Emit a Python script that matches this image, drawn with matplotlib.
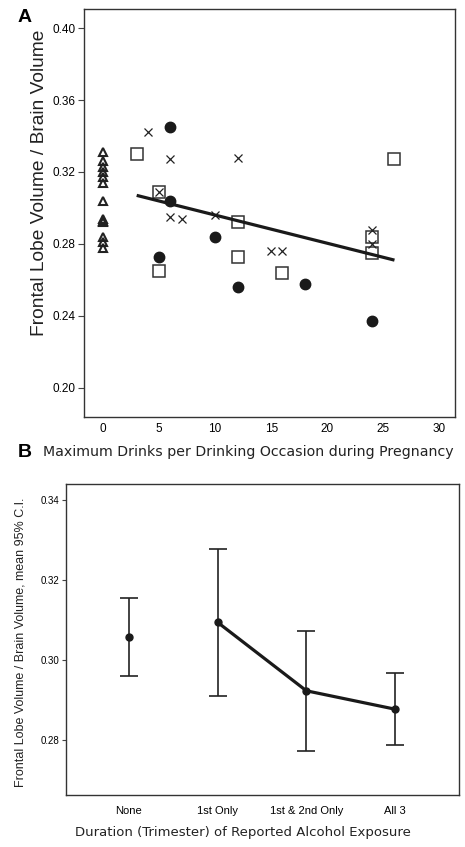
import matplotlib
matplotlib.use("Agg")
import matplotlib.pyplot as plt

plt.rcParams['font.family'] = ['Liberation Sans', 'DejaVu Sans']

# ---- Panel A data ----
tri_x = [0, 0, 0, 0, 0, 0, 0, 0, 0, 0, 0, 0, 0]
tri_y = [0.331, 0.326, 0.323, 0.320, 0.317, 0.314, 0.304, 0.294, 0.293, 0.292, 0.284, 0.281, 0.278]
circ_x = [6, 6, 5, 10, 12, 18, 24]
circ_y = [0.345, 0.304, 0.273, 0.284, 0.256, 0.258, 0.237]
sq_x = [3, 5, 5, 12, 12, 16, 24, 24, 26]
sq_y = [0.330, 0.309, 0.265, 0.292, 0.273, 0.264, 0.284, 0.275, 0.327]
cross_x = [4, 6, 12, 5, 6, 7, 10, 15, 16, 24, 24]
cross_y = [0.342, 0.327, 0.328, 0.309, 0.295, 0.294, 0.296, 0.276, 0.276, 0.288, 0.280]
fit_x = [3, 26]
fit_y = [0.307, 0.271]
a_xticks = [0, 5, 10, 15, 20, 25, 30]
a_yticks = [0.20, 0.24, 0.28, 0.32, 0.36, 0.40]

# ---- Panel B data ----
b_cats = ["None", "1st Only", "1st & 2nd Only", "All 3"]
b_mean = [0.3058, 0.3094, 0.2923, 0.2877]
b_low = [0.2961, 0.2911, 0.2773, 0.2787]
b_high = [0.3156, 0.3277, 0.3073, 0.2967]
b_yticks = [0.28, 0.30, 0.32, 0.34]

W, H = 465, 847
fig = plt.figure(figsize=(W/100, H/100), dpi=100)

# Panel A
axA = fig.add_axes([84/W, 1-417/H, (455-84)/W, (417-9)/H])
axA.plot(tri_x, tri_y, linestyle='none', marker='^', markersize=6.2,
         markerfacecolor='none', markeredgecolor='#222222', markeredgewidth=1.5)
axA.plot(circ_x, circ_y, linestyle='none', marker='o', markersize=7.5,
         markerfacecolor='#1a1a1a', markeredgecolor='#1a1a1a')
axA.plot(sq_x, sq_y, linestyle='none', marker='s', markersize=8,
         markerfacecolor='none', markeredgecolor='#333333', markeredgewidth=1.1)
axA.plot(cross_x, cross_y, linestyle='none', marker='x', markersize=5.5,
         markeredgecolor='#222222', markeredgewidth=0.9)
axA.plot(fit_x, fit_y, color='#1a1a1a', linewidth=2.3, solid_capstyle='butt')
axA.set_xlim(-1.7, 31.4)
axA.set_ylim(0.1838, 0.4106)
axA.set_xticks(a_xticks)
axA.set_xticklabels([str(t) for t in a_xticks], fontsize=8.5)
axA.set_yticks(a_yticks)
axA.set_yticklabels(["%.2f" % t for t in a_yticks], fontsize=8.5)
axA.tick_params(axis='x', length=0, pad=4)
axA.tick_params(axis='y', length=4, width=0.8, direction='out', color='#444444', pad=2)
for s in axA.spines.values():
    s.set_linewidth(1.0)
    s.set_color('#333333')
fig.text(39/W, 1-183/H, "Frontal Lobe Volume / Brain Volume", fontsize=13.8,
         rotation=90, ha='center', va='center', color='#222222')
fig.text(43/W, 1-452/H, "Maximum Drinks per Drinking Occasion during Pregnancy",
         fontsize=10.2, family=['DejaVu Sans'], va='center', ha='left', color='#222222')
fig.text(25/W, 1-18/H, "A", fontsize=14, fontweight='bold', ha='center', va='center')
fig.text(25/W, 1-452/H, "B", fontsize=14, fontweight='bold', ha='center', va='center')

# Panel B
axB = fig.add_axes([66/W, 1-795/H, (459-66)/W, (795-484)/H])
xs = list(range(len(b_cats)))
err_lo = [m - l for m, l in zip(b_mean, b_low)]
err_hi = [h - m for m, h in zip(b_mean, b_high)]
axB.errorbar(xs, b_mean, yerr=[err_lo, err_hi], fmt='none', ecolor='#222222',
             elinewidth=1.2, capsize=6.2, capthick=1.2)
axB.plot(xs[1:], b_mean[1:], color='#1a1a1a', linewidth=2.3)
axB.plot(xs, b_mean, linestyle='none', marker='o', markersize=5, color='#1a1a1a')
axB.set_xlim(-0.71, 3.72)
axB.set_ylim(0.26625, 0.344)
axB.set_xticks(xs)
axB.set_xticklabels(b_cats, fontsize=8)
axB.set_yticks(b_yticks)
axB.set_yticklabels(["%.2f" % t for t in b_yticks], fontsize=7)
axB.tick_params(axis='x', length=0, pad=8)
axB.tick_params(axis='y', length=3, width=0.8, direction='out', color='#444444', pad=2)
for s in axB.spines.values():
    s.set_linewidth(1.0)
    s.set_color('#333333')
fig.text(21/W, 1-642/H, "Frontal Lobe Volume / Brain Volume, mean 95% C.I.", fontsize=9,
         rotation=90, ha='center', va='center', color='#222222')
fig.text(243/W, 1-832/H, "Duration (Trimester) of Reported Alcohol Exposure", fontsize=9.5,
         family=['DejaVu Sans'], ha='center', va='center', color='#222222')

fig.savefig("out.png", dpi=100)
